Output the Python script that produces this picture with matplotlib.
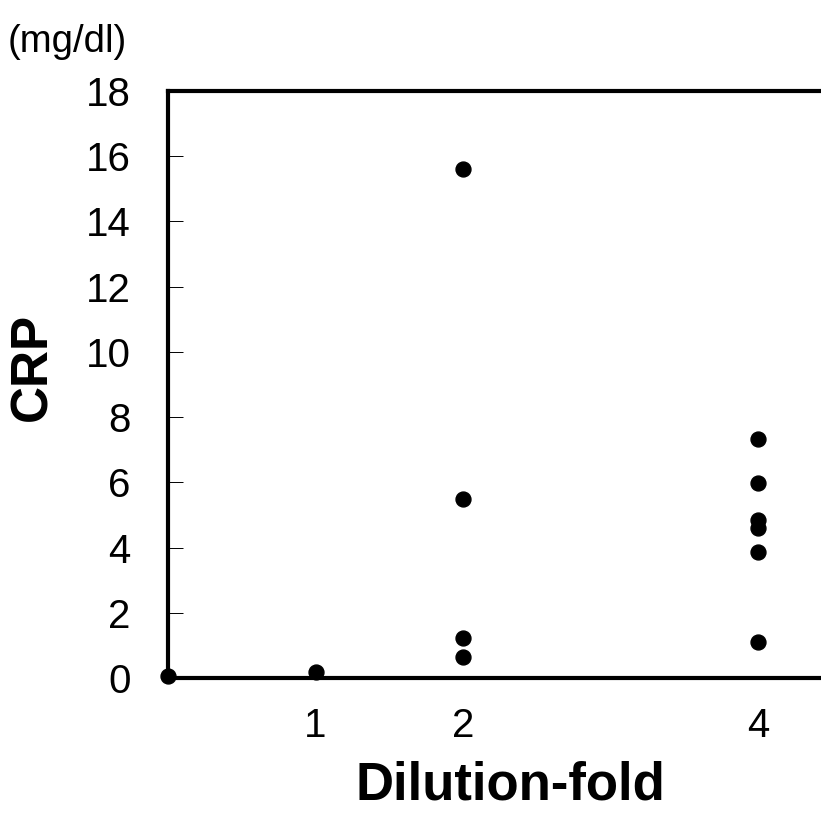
import matplotlib.pyplot as plt

plt.rcParams['font.family'] = ['Liberation Sans', 'DejaVu Sans']

# данные
dilution_fold = [0, 1, 2, 2, 2, 2, 4, 4, 4, 4, 4, 4]
crp_values = [0.05, 0.18, 15.6, 5.5, 1.23, 0.65, 7.33, 5.98, 4.85, 4.6, 3.87, 1.1]
y_ticks = [0, 2, 4, 6, 8, 10, 12, 14, 16, 18]
x_ticks = [1, 2, 4]

fig = plt.figure(figsize=(8.21, 8.13), dpi=100)
# правая граница осей выходит за пределы рисунка, как в оригинале
ax = fig.add_axes([168 / 821, 135 / 813, 664 / 821, 587 / 813])

ax.scatter(dilution_fold, crp_values, s=115, color='black', zorder=3, clip_on=False)

ax.set_xlim(0, 4.5)
ax.set_ylim(0, 18)
ax.set_yticks(y_ticks)
ax.set_xticks(x_ticks)
ax.set_xticklabels([str(v) for v in x_ticks])

for side in ['left', 'bottom', 'top', 'right']:
    ax.spines[side].set_linewidth(3)

ax.tick_params(axis='y', direction='in', length=11, width=0.7, pad=27, labelsize=29)
ax.tick_params(axis='x', length=0, pad=21, labelsize=29)

ax.set_xlabel('Dilution-fold', fontsize=38, fontweight='bold', labelpad=11, x=0.515)
ax.set_ylabel('CRP', fontsize=37, fontweight='bold', labelpad=20, y=0.53)

fig.text(8 / 821, 1 - 42 / 813, '(mg/dl)', fontsize=27.5, va='center', ha='left')

fig.savefig('out.png', dpi=100)
